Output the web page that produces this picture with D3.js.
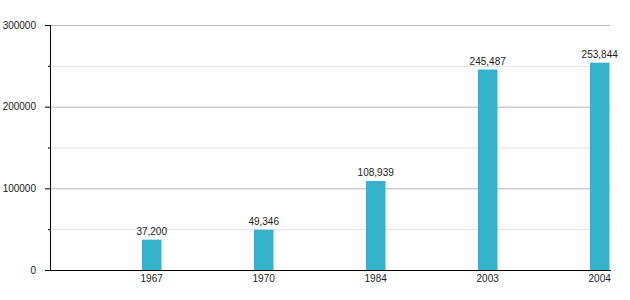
<!DOCTYPE html>
<html>
<head>
<meta charset="utf-8">
<script src="https://cdn.jsdelivr.net/npm/d3@7.9.0/dist/d3.min.js"></script>
<style>
  body { margin: 0; background: #fff; }
  text { font-family: "Liberation Sans", Arial, sans-serif; font-size: 10px; fill: #1a1a1a; }
</style>
</head>
<body>
<svg id="chart" width="630" height="300"></svg>
<script>
const years = ['1967', '1970', '1984', '2003', '2004'];
const values = [37200, 49346, 108939, 245487, 253844];
const majorTicks = [0, 100000, 200000, 300000];
const minorTicks = [50000, 150000, 250000];

const svg = d3.select('#chart');
const plotLeft = 50, plotRight = 610, plotTop = 25, plotBottom = 270;

const x = d3.scaleBand().domain(years).range([plotLeft, plotRight]).padding(0);
const y = d3.scaleLinear().domain([0, 300000]).range([plotBottom, plotTop]);
const barW = 19.6;
const barX = (yr) => x(yr) + x.bandwidth() - barW - 0.5;

// gridlines
svg.append('g').selectAll('line').data(minorTicks).join('line')
    .attr('x1', plotLeft).attr('x2', plotRight)
    .attr('y1', d => y(d) + 0.5).attr('y2', d => y(d) + 0.5)
    .attr('stroke', '#e2e2e2');
svg.append('g').selectAll('line').data(majorTicks.filter(d => d > 0)).join('line')
    .attr('x1', plotLeft).attr('x2', plotRight)
    .attr('y1', d => y(d) + 0.5).attr('y2', d => y(d) + 0.5)
    .attr('stroke', '#b4b4b4');

// bars
svg.append('g').selectAll('rect').data(values).join('rect')
    .attr('x', (d, i) => barX(years[i]))
    .attr('y', d => y(d))
    .attr('width', barW)
    .attr('height', d => plotBottom - y(d))
    .attr('fill', '#34b2cb');

// value labels
svg.append('g').selectAll('text').data(values).join('text')
    .attr('x', (d, i) => barX(years[i]) + barW / 2)
    .attr('y', d => y(d) - 5)
    .attr('text-anchor', 'middle')
    .text(d => d3.format(',')(d));

// y axis
const yAxis = svg.append('g');
yAxis.append('line')
    .attr('x1', plotLeft + 0.5).attr('x2', plotLeft + 0.5)
    .attr('y1', plotTop).attr('y2', plotBottom)
    .attr('stroke', '#000');
yAxis.selectAll('.major').data(majorTicks).join('line')
    .attr('class', 'major')
    .attr('x1', plotLeft - 5).attr('x2', plotLeft)
    .attr('y1', d => y(d) + 0.5).attr('y2', d => y(d) + 0.5)
    .attr('stroke', '#000');
yAxis.selectAll('.minor').data(minorTicks).join('line')
    .attr('class', 'minor')
    .attr('x1', plotLeft - 2).attr('x2', plotLeft)
    .attr('y1', d => y(d) + 0.5).attr('y2', d => y(d) + 0.5)
    .attr('stroke', '#000');
yAxis.selectAll('text').data(majorTicks).join('text')
    .attr('x', 36)
    .attr('y', d => y(d) + 3.5)
    .attr('text-anchor', 'end')
    .text(d => d);

// x axis
svg.append('line')
    .attr('x1', plotLeft).attr('x2', plotRight + 1)
    .attr('y1', plotBottom + 0.5).attr('y2', plotBottom + 0.5)
    .attr('stroke', '#000');
svg.append('g').selectAll('text').data(years).join('text')
    .attr('x', d => barX(d) + barW / 2)
    .attr('y', 282)
    .attr('text-anchor', 'middle')
    .text(d => d);
</script>
</body>
</html>
